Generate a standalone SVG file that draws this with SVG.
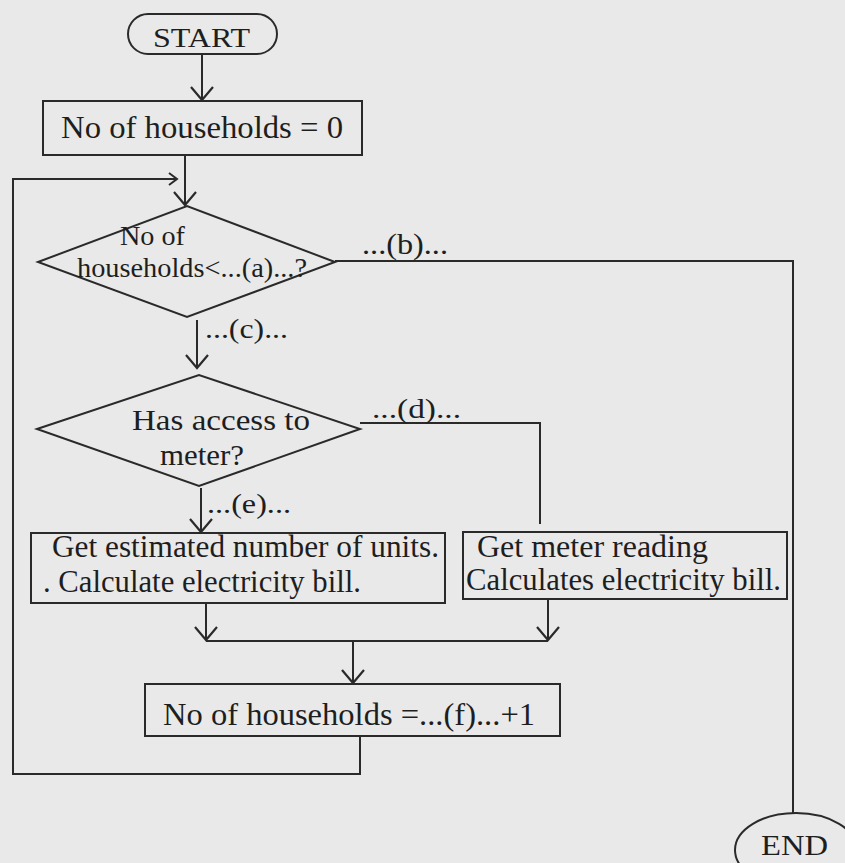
<svg xmlns="http://www.w3.org/2000/svg" width="845" height="863" viewBox="0 0 845 863">
<defs>
<style>
.shape{fill:none;stroke:#2a2a2a;stroke-width:2}
.line{fill:none;stroke:#2a2a2a;stroke-width:2}
.t{font-family:"Liberation Serif","Times New Roman",serif;fill:#1e1e1e}
</style>
<marker id="arr" markerUnits="userSpaceOnUse" markerWidth="18" markerHeight="26" refX="15" refY="13" orient="auto">
<path d="M2,2 L15,13 L2,24" fill="none" stroke="#2a2a2a" stroke-width="2.2"/>
</marker>
<marker id="arrs" markerUnits="userSpaceOnUse" markerWidth="12" markerHeight="16" refX="10" refY="8" orient="auto">
<path d="M2,2 L10,8 L2,14" fill="none" stroke="#2a2a2a" stroke-width="2"/>
</marker>
</defs>
<rect width="845" height="863" fill="#e9e9e9"/>

<g id="connectors">
<path class="line" d="M202,54 L202,100" marker-end="url(#arr)"/>
<path class="line" d="M185,155 L185,205" marker-end="url(#arr)"/>
<path class="line" d="M360,736 L360,774 L13,774 L13,179 L177,179" marker-end="url(#arrs)"/>
<path class="line" d="M335,261 L793,261 L793,813"/>
<path class="line" d="M197,320 L197,368" marker-end="url(#arr)"/>
<path class="line" d="M360,423 L540,423 L540,524"/>
<path class="line" d="M201,488 L201,532" marker-end="url(#arr)"/>
<path class="line" d="M206,603 L206,640" marker-end="url(#arr)"/>
<path class="line" d="M548,599 L548,640" marker-end="url(#arr)"/>
<path class="line" d="M206,641 L548,641"/>
<path class="line" d="M353,641 L353,683" marker-end="url(#arr)"/>
</g>

<g id="start">
<rect class="shape" x="128" y="14" width="149" height="40" rx="20" ry="20"/>
<text class="t" x="153" y="47" font-size="28" textLength="97" lengthAdjust="spacingAndGlyphs">START</text>
</g>

<g id="init">
<rect class="shape" x="43" y="101" width="319" height="54"/>
<text class="t" x="61" y="138" font-size="31" textLength="282" lengthAdjust="spacingAndGlyphs">No of households = 0</text>
</g>

<g id="decision1">
<polygon class="shape" points="38,262 187,206 335,262 187,317"/>
<text class="t" x="120" y="245" font-size="27" textLength="65" lengthAdjust="spacingAndGlyphs">No of</text>
<text class="t" x="77" y="277" font-size="27" textLength="230" lengthAdjust="spacingAndGlyphs">households&lt;...(a)...?</text>
</g>

<g id="label-b">
<text class="t" x="362" y="254" font-size="29" textLength="86" lengthAdjust="spacingAndGlyphs">...(b)...</text>
</g>

<g id="label-c">
<text class="t" x="205" y="338" font-size="28" textLength="83" lengthAdjust="spacingAndGlyphs">...(c)...</text>
</g>

<g id="decision2">
<polygon class="shape" points="37,429 199,375 360,429 199,486"/>
<text class="t" x="132" y="430" font-size="30" textLength="178" lengthAdjust="spacingAndGlyphs">Has  access  to</text>
<text class="t" x="160" y="465" font-size="30" textLength="84" lengthAdjust="spacingAndGlyphs">meter?</text>
</g>

<g id="label-d">
<text class="t" x="372" y="418" font-size="28" textLength="89" lengthAdjust="spacingAndGlyphs">...(d)...</text>
</g>

<g id="label-e">
<text class="t" x="207" y="513" font-size="28" textLength="84" lengthAdjust="spacingAndGlyphs">...(e)...</text>
</g>

<g id="estimate">
<rect class="shape" x="31" y="533" width="414" height="70"/>
<text class="t" x="52" y="557" font-size="31" textLength="387" lengthAdjust="spacingAndGlyphs">Get estimated number of units.</text>
<text class="t" x="43" y="592" font-size="31" textLength="318" lengthAdjust="spacingAndGlyphs">. Calculate electricity bill.</text>
</g>

<g id="meter">
<rect class="shape" x="463" y="532" width="324" height="67"/>
<text class="t" x="477" y="557" font-size="31" textLength="231" lengthAdjust="spacingAndGlyphs">Get meter reading</text>
<text class="t" x="466" y="590" font-size="31" textLength="315" lengthAdjust="spacingAndGlyphs">Calculates electricity bill.</text>
</g>

<g id="increment">
<rect class="shape" x="145" y="684" width="415" height="52"/>
<text class="t" x="163" y="725" font-size="32" textLength="372" lengthAdjust="spacingAndGlyphs">No of households =...(f)...+1</text>
</g>

<g id="end">
<ellipse class="shape" cx="796" cy="850" rx="61" ry="37"/>
<text class="t" x="761" y="855" font-size="30" textLength="67" lengthAdjust="spacingAndGlyphs">END</text>
</g>
</svg>
